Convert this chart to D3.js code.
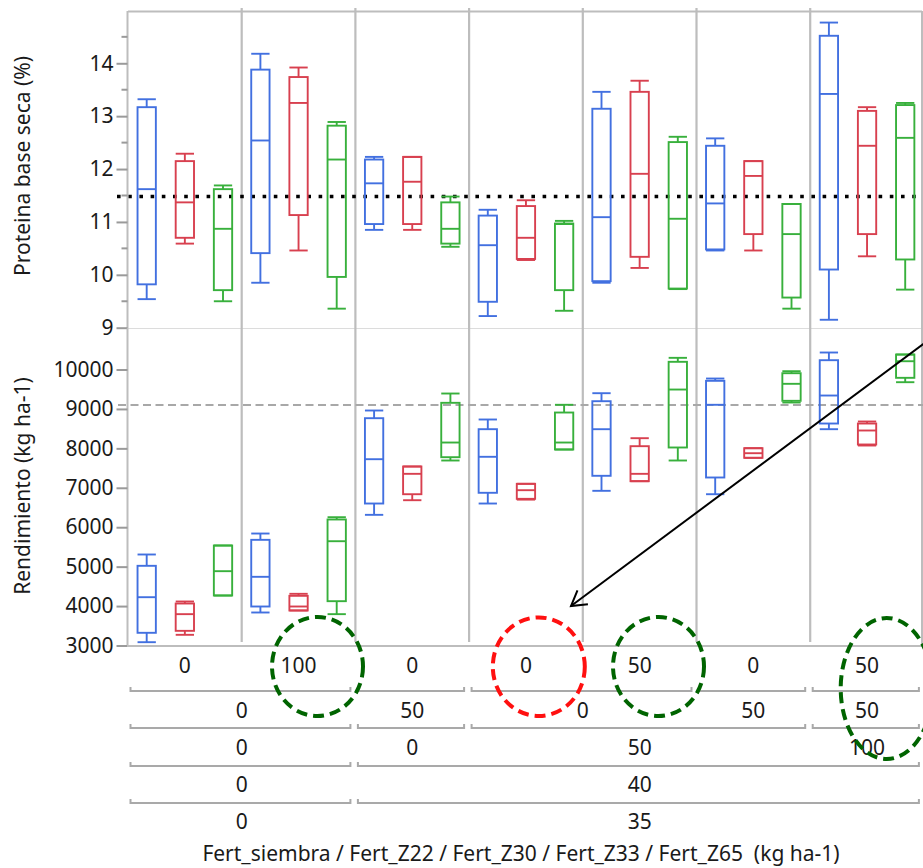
<!DOCTYPE html>
<html>
<head>
<meta charset="utf-8">
<script src="https://cdn.jsdelivr.net/npm/d3@7"></script>
<style>
  html, body { margin: 0; padding: 0; background: #fff; }
  svg { display: block; font-family: "Noto Sans", "Open Sans", sans-serif; }
</style>
</head>
<body>
<svg id="chart" width="923" height="868"></svg>
<script>
// Treatment levels along the x axis (innermost first), each entry [label, number of columns spanned]
const fertZ65 = [["0",1],["100",1],["0",1],["0",1],["50",1],["0",1],["50",1]];
const fertZ33 = [["0",2],["50",1],["0",2],["50",1],["50",1]];
const fertZ30 = [["0",2],["0",1],["50",3],["100",1]];
const fertZ22 = [["0",2],["40",5]];
const fertSiembra = [["0",2],["35",5]];
const xTitle = "Fert_siembra / Fert_Z22 / Fert_Z30 / Fert_Z33 / Fert_Z65 \u00a0(kg ha-1)";

// Box statistics per treatment column: [low whisker, Q1, median, Q3, high whisker]
const proteinaS1 = [
  [9.54, 9.82, 11.62, 13.17, 13.32],
  [9.85, 10.41, 12.54, 13.88, 14.18],
  [10.85, 10.96, 11.73, 12.18, 12.23],
  [9.22, 9.49, 10.56, 11.12, 11.23],
  [9.85, 9.88, 11.09, 13.14, 13.46],
  [10.46, 10.48, 11.35, 12.44, 12.58],
  [9.15, 10.10, 13.42, 14.52, 14.77]
];
const proteinaS2 = [
  [10.59, 10.70, 11.37, 12.15, 12.29],
  [10.46, 11.13, 13.25, 13.74, 13.92],
  [10.85, 10.96, 11.76, 12.23, 12.23],
  [10.28, 10.30, 10.70, 11.30, 11.41],
  [10.13, 10.34, 11.91, 13.46, 13.67],
  [10.46, 10.77, 11.87, 12.15, 12.15],
  [10.35, 10.77, 12.44, 13.10, 13.17]
];
const proteinaS3 = [
  [9.50, 9.71, 10.87, 11.62, 11.69],
  [9.36, 9.96, 12.18, 12.82, 12.89],
  [10.53, 10.59, 10.87, 11.37, 11.48],
  [9.32, 9.71, 10.96, 10.97, 11.02],
  [9.73, 9.74, 11.06, 12.51, 12.61],
  [9.36, 9.57, 10.77, 11.34, 11.34],
  [9.72, 10.29, 12.59, 13.21, 13.25]
];
const rendimientoS1 = [
  [3084, 3322, 4225, 5021, 5308],
  [3837, 3989, 4742, 5680, 5840],
  [6314, 6601, 7725, 8765, 8960],
  [6601, 6873, 7786, 8486, 8732],
  [6923, 7304, 8486, 9196, 9399],
  [6837, 7261, 9105, 9713, 9771],
  [8486, 8630, 9340, 10236, 10431]
];
const rendimientoS2 = [
  [3271, 3372, 3795, 4065, 4116],
  [3888, 3888, 3989, 4260, 4311],
  [6685, 6837, 7354, 7540, 7540],
  [6700, 6720, 6939, 7101, 7101],
  [7167, 7167, 7354, 8055, 8258],
  [7760, 7760, 7877, 8004, 8004],
  [8072, 8098, 8453, 8630, 8681]
];
const rendimientoS3 = [
  [4268, 4268, 4885, 5536, 5536],
  [3795, 4124, 5645, 6196, 6254],
  [7692, 7776, 8148, 9155, 9391],
  [7971, 7971, 8148, 8909, 9105],
  [7692, 8022, 9492, 10195, 10296],
  [9163, 9206, 9637, 9906, 9957],
  [9678, 9789, 10210, 10380, 10380]
];
const seriesColors = ["#4270e0", "#d8404f", "#38b03c"];

// Grand means drawn as reference lines
const proteinaMedia = 11.48;
const rendimientoMedia = 9100;

// Axis ticks
const proteinaTicks = [9, 10, 11, 12, 13, 14];
const proteinaMinor = [9.5, 10.5, 11.5, 12.5, 13.5, 14.5];
const rendimientoTicks = [3000, 4000, 5000, 6000, 7000, 8000, 9000, 10000];

const svg = d3.select("#chart");
const gray = "#bdbdbd";
const textColor = "#1a1a1a";
const fontSize = 21;
const left = 128, right = 923.9;

const nCols = fertZ65.length;
const xCol = d3.scaleBand().domain(d3.range(nCols)).range([left, right]).padding(0);
const xSer = d3.scaleBand().domain([0, 1, 2]).range([0, xCol.bandwidth()])
  .paddingInner(0.52).paddingOuter(0.25);

const yTop = d3.scaleLinear().domain([9, 15]).range([327.7, 10.4]);
const yBot = d3.scaleLinear().domain([3000, 11040]).range([645.5, 328.5]);

// Frame, panel divider and column separators
svg.append("line").attr("x1", left).attr("x2", 922).attr("y1", 11.5).attr("y2", 11.5)
  .attr("stroke", gray).attr("stroke-width", 2);
svg.append("line").attr("x1", left).attr("x2", 922).attr("y1", 328.5).attr("y2", 328.5)
  .attr("stroke", "#dcdcdc").attr("stroke-width", 1);
svg.append("line").attr("x1", 922).attr("x2", 922).attr("y1", 11).attr("y2", 646)
  .attr("stroke", gray).attr("stroke-width", 2);
svg.selectAll("line.sep").data(d3.range(1, nCols)).join("line").attr("class", "sep")
  .attr("x1", d => xCol(d)).attr("x2", d => xCol(d))
  .attr("y1", 8).attr("y2", 642)
  .attr("stroke", gray).attr("stroke-width", 2.2);

// Reference lines for the means
svg.append("line").attr("x1", 117).attr("x2", right).attr("y1", yTop(proteinaMedia)).attr("y2", yTop(proteinaMedia))
  .attr("stroke", "#000").attr("stroke-width", 3.6).attr("stroke-dasharray", "3.6 7.6");
svg.append("line").attr("x1", 118).attr("x2", right).attr("y1", yBot(rendimientoMedia)).attr("y2", yBot(rendimientoMedia))
  .attr("stroke", "#a8a8a8").attr("stroke-width", 2).attr("stroke-dasharray", "8 4.5");

// Y axes
function styleAxis(g) {
  g.select(".domain").attr("stroke", gray).attr("stroke-width", 2);
  g.selectAll(".tick line").attr("stroke", "#9a9a9a").attr("stroke-width", 2);
  g.selectAll(".tick text").attr("font-size", fontSize).attr("fill", textColor)
    .attr("font-family", "'Noto Sans', 'Open Sans', sans-serif");
}
const axTop = svg.append("g").attr("transform", `translate(${left - 0.5},0)`)
  .call(d3.axisLeft(yTop).tickValues(proteinaTicks).tickFormat(d3.format("d")).tickSize(11).tickPadding(3).tickSizeOuter(0));
styleAxis(axTop);
axTop.append("g").selectAll("line").data(proteinaMinor).join("line")
  .attr("x1", -6).attr("x2", 0).attr("y1", d => yTop(d)).attr("y2", d => yTop(d))
  .attr("stroke", "#9a9a9a").attr("stroke-width", 2);
axTop.select(".domain").attr("d", `M0,${11}V${328.5}`);

const axBot = svg.append("g").attr("transform", `translate(${left - 0.5},0)`)
  .call(d3.axisLeft(yBot).tickValues(rendimientoTicks).tickFormat(d3.format("d")).tickSize(11).tickPadding(3).tickSizeOuter(0));
styleAxis(axBot);
axBot.select(".domain").attr("d", `M0,${328.5}V${646}`);

// Bottom axis line
svg.append("line").attr("x1", left - 1).attr("x2", 923).attr("y1", 646).attr("y2", 646)
  .attr("stroke", gray).attr("stroke-width", 2);

// Box plots
function drawBoxes(stats, yScale, color, si) {
  const g = svg.append("g");
  const bw = xSer.bandwidth();
  const groups = g.selectAll("g").data(stats).join("g")
    .attr("transform", (d, i) => `translate(${xCol(i) + xSer(si)},0)`);
  const st = { stroke: color, "stroke-width": 1.9, fill: "none" };
  const apply = sel => { for (const k in st) sel.attr(k, st[k]); return sel; };
  apply(groups.append("line")).attr("x1", bw / 2).attr("x2", bw / 2)
    .attr("y1", d => yScale(d[4])).attr("y2", d => yScale(d[3]));
  apply(groups.append("line")).attr("x1", bw / 2).attr("x2", bw / 2)
    .attr("y1", d => yScale(d[1])).attr("y2", d => yScale(d[0]));
  apply(groups.append("line")).attr("x1", 0).attr("x2", bw)
    .attr("y1", d => yScale(d[4])).attr("y2", d => yScale(d[4]));
  apply(groups.append("line")).attr("x1", 0).attr("x2", bw)
    .attr("y1", d => yScale(d[0])).attr("y2", d => yScale(d[0]));
  apply(groups.append("rect")).attr("x", 0).attr("width", bw)
    .attr("y", d => yScale(d[3])).attr("height", d => Math.max(0.5, yScale(d[1]) - yScale(d[3])));
  apply(groups.append("line")).attr("x1", 0).attr("x2", bw)
    .attr("y1", d => yScale(d[2])).attr("y2", d => yScale(d[2]));
}
[proteinaS1, proteinaS2, proteinaS3].forEach((s, i) => drawBoxes(s, yTop, seriesColors[i], i));
[rendimientoS1, rendimientoS2, rendimientoS3].forEach((s, i) => drawBoxes(s, yBot, seriesColors[i], i));

// Nested category labels with brackets grouping them by the next level
const levels = [fertZ65, fertZ33, fertZ30, fertZ22, fertSiembra];
const labelY = [666, 711, 748, 785, 822];
const bracketY = [691, 728, 766, 803];
function spans(level) {
  let c = 0;
  return level.map(([label, n]) => { const s = { label, a: c, b: c + n }; c += n; return s; });
}
const colEdge = i => (i >= nCols ? right : xCol(i));
levels.forEach((lvl, li) => {
  const sp = spans(lvl);
  svg.append("g").selectAll("text").data(sp).join("text")
    .attr("x", d => (colEdge(d.a) + colEdge(d.b)) / 2)
    .attr("y", labelY[li]).attr("dy", "0.35em")
    .attr("text-anchor", "middle").attr("font-size", fontSize).attr("fill", textColor)
    .text(d => d.label);
  if (li < levels.length - 1) {
    const outer = spans(levels[li + 1]);
    const g = svg.append("g").attr("stroke", "#a9a9a9").attr("stroke-width", 2).attr("fill", "none");
    g.selectAll("path").data(outer).join("path")
      .attr("d", d => {
        const xa = colEdge(d.a) + 2.5, xb = colEdge(d.b) - 5;
        const y = bracketY[li];
        return `M${xa},${y - 4}V${y}H${xb}V${y - 4}`;
      });
  }
});

svg.append("text").attr("x", 521).attr("y", 861).attr("text-anchor", "middle")
  .attr("font-size", fontSize).attr("fill", textColor).text(xTitle);

svg.append("text").attr("transform", "translate(23,166) rotate(-90)").attr("dy", "0.35em")
  .attr("text-anchor", "middle").attr("font-size", fontSize).attr("fill", textColor).text("Proteina base seca (%)");
svg.append("text").attr("transform", "translate(23,486) rotate(-90)").attr("dy", "0.35em")
  .attr("text-anchor", "middle").attr("font-size", fontSize).attr("fill", textColor).text("Rendimiento (kg ha-1)");

// Highlight ellipses around selected treatment labels
const highlights = [
  { cx: 317.5, cy: 666.5, rx: 45.5, ry: 49.5, color: "#006400" },
  { cx: 538.8, cy: 666.7, rx: 46, ry: 49.3, color: "#ff1010" },
  { cx: 658.5, cy: 666.5, rx: 45.5, ry: 49.5, color: "#006400" },
  { cx: 886.7, cy: 688.5, rx: 46, ry: 70.5, color: "#006400" }
];
svg.append("g").selectAll("ellipse").data(highlights).join("ellipse")
  .attr("cx", d => d.cx).attr("cy", d => d.cy).attr("rx", d => d.rx).attr("ry", d => d.ry)
  .attr("fill", "none").attr("stroke", d => d.color).attr("stroke-width", 4)
  .attr("stroke-dasharray", "11 6");

// Arrow pointing from the upper right down to the highlighted treatment
const tip = [571, 606], tail = [940, 331.6];
const arrow = svg.append("g").attr("stroke", "#000").attr("stroke-width", 2).attr("fill", "none");
arrow.append("line").attr("x1", tail[0]).attr("y1", tail[1]).attr("x2", tip[0]).attr("y2", tip[1]);
const ang = Math.atan2(tail[1] - tip[1], tail[0] - tip[0]);
const headLen = 17, spread = 31 * Math.PI / 180;
arrow.append("path").attr("d",
  `M${tip[0] + headLen * Math.cos(ang - spread)},${tip[1] + headLen * Math.sin(ang - spread)}` +
  `L${tip[0]},${tip[1]}` +
  `L${tip[0] + headLen * Math.cos(ang + spread)},${tip[1] + headLen * Math.sin(ang + spread)}`);
</script>
</body>
</html>
